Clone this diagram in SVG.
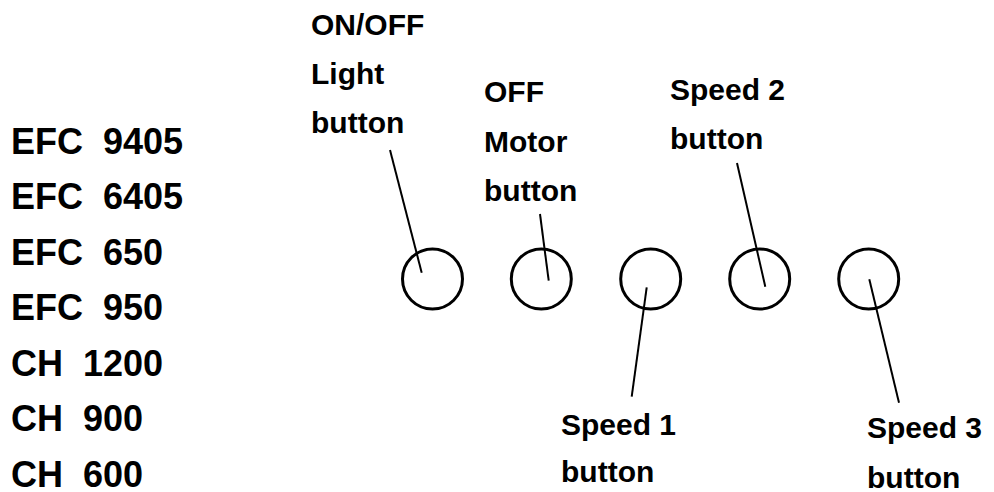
<svg xmlns="http://www.w3.org/2000/svg" width="994" height="492" viewBox="0 0 994 492" xml:space="preserve">
<style>
text { font-family: "Liberation Sans", Arial, sans-serif; font-weight: bold; fill: #000; white-space: pre; }
.model { font-size: 36px; }
.lbl { font-size: 30px; }
.btn { fill: none; stroke: #000; stroke-width: 3; }
.lead { stroke: #000; stroke-width: 2; fill: none; }
</style>
<rect width="994" height="492" fill="#fff"/>
<g id="models">
<text class="model" x="11" y="153.5">EFC  9405</text>
<text class="model" x="11" y="209">EFC  6405</text>
<text class="model" x="11" y="264.5">EFC  650</text>
<text class="model" x="11" y="320">EFC  950</text>
<text class="model" x="11" y="375.5">CH  1200</text>
<text class="model" x="11" y="431">CH  900</text>
<text class="model" x="11" y="486.5">CH  600</text>
</g>
<g id="btn-light"><circle class="btn" cx="432.5" cy="279" r="30"/><text class="lbl" x="311" y="35">ON/OFF</text><text class="lbl" x="311" y="84">Light</text><text class="lbl" x="311" y="133">button</text></g>
<g id="btn-motor"><circle class="btn" cx="541.3" cy="279" r="30"/><text class="lbl" x="484" y="102">OFF</text><text class="lbl" x="484" y="152">Motor</text><text class="lbl" x="484" y="201">button</text></g>
<g id="btn-speed1"><circle class="btn" cx="650.7" cy="279" r="30"/><text class="lbl" x="561" y="435">Speed 1</text><text class="lbl" x="561" y="482">button</text></g>
<g id="btn-speed2"><circle class="btn" cx="759.7" cy="279" r="30"/><text class="lbl" x="670" y="100">Speed 2</text><text class="lbl" x="670" y="149">button</text></g>
<g id="btn-speed3"><circle class="btn" cx="868.7" cy="279" r="30"/><text class="lbl" x="867" y="438">Speed 3</text><text class="lbl" x="867" y="488">button</text></g>
<g id="connectors">
<line class="lead" x1="390" y1="150" x2="421.7" y2="272.7"/>
<line class="lead" x1="540" y1="214" x2="548.7" y2="280.7"/>
<line class="lead" x1="646.7" y1="287.3" x2="631.7" y2="396.7"/>
<line class="lead" x1="737" y1="163" x2="765.3" y2="286.7"/>
<line class="lead" x1="869.3" y1="279.3" x2="899" y2="402.7"/>
</g>
</svg>
